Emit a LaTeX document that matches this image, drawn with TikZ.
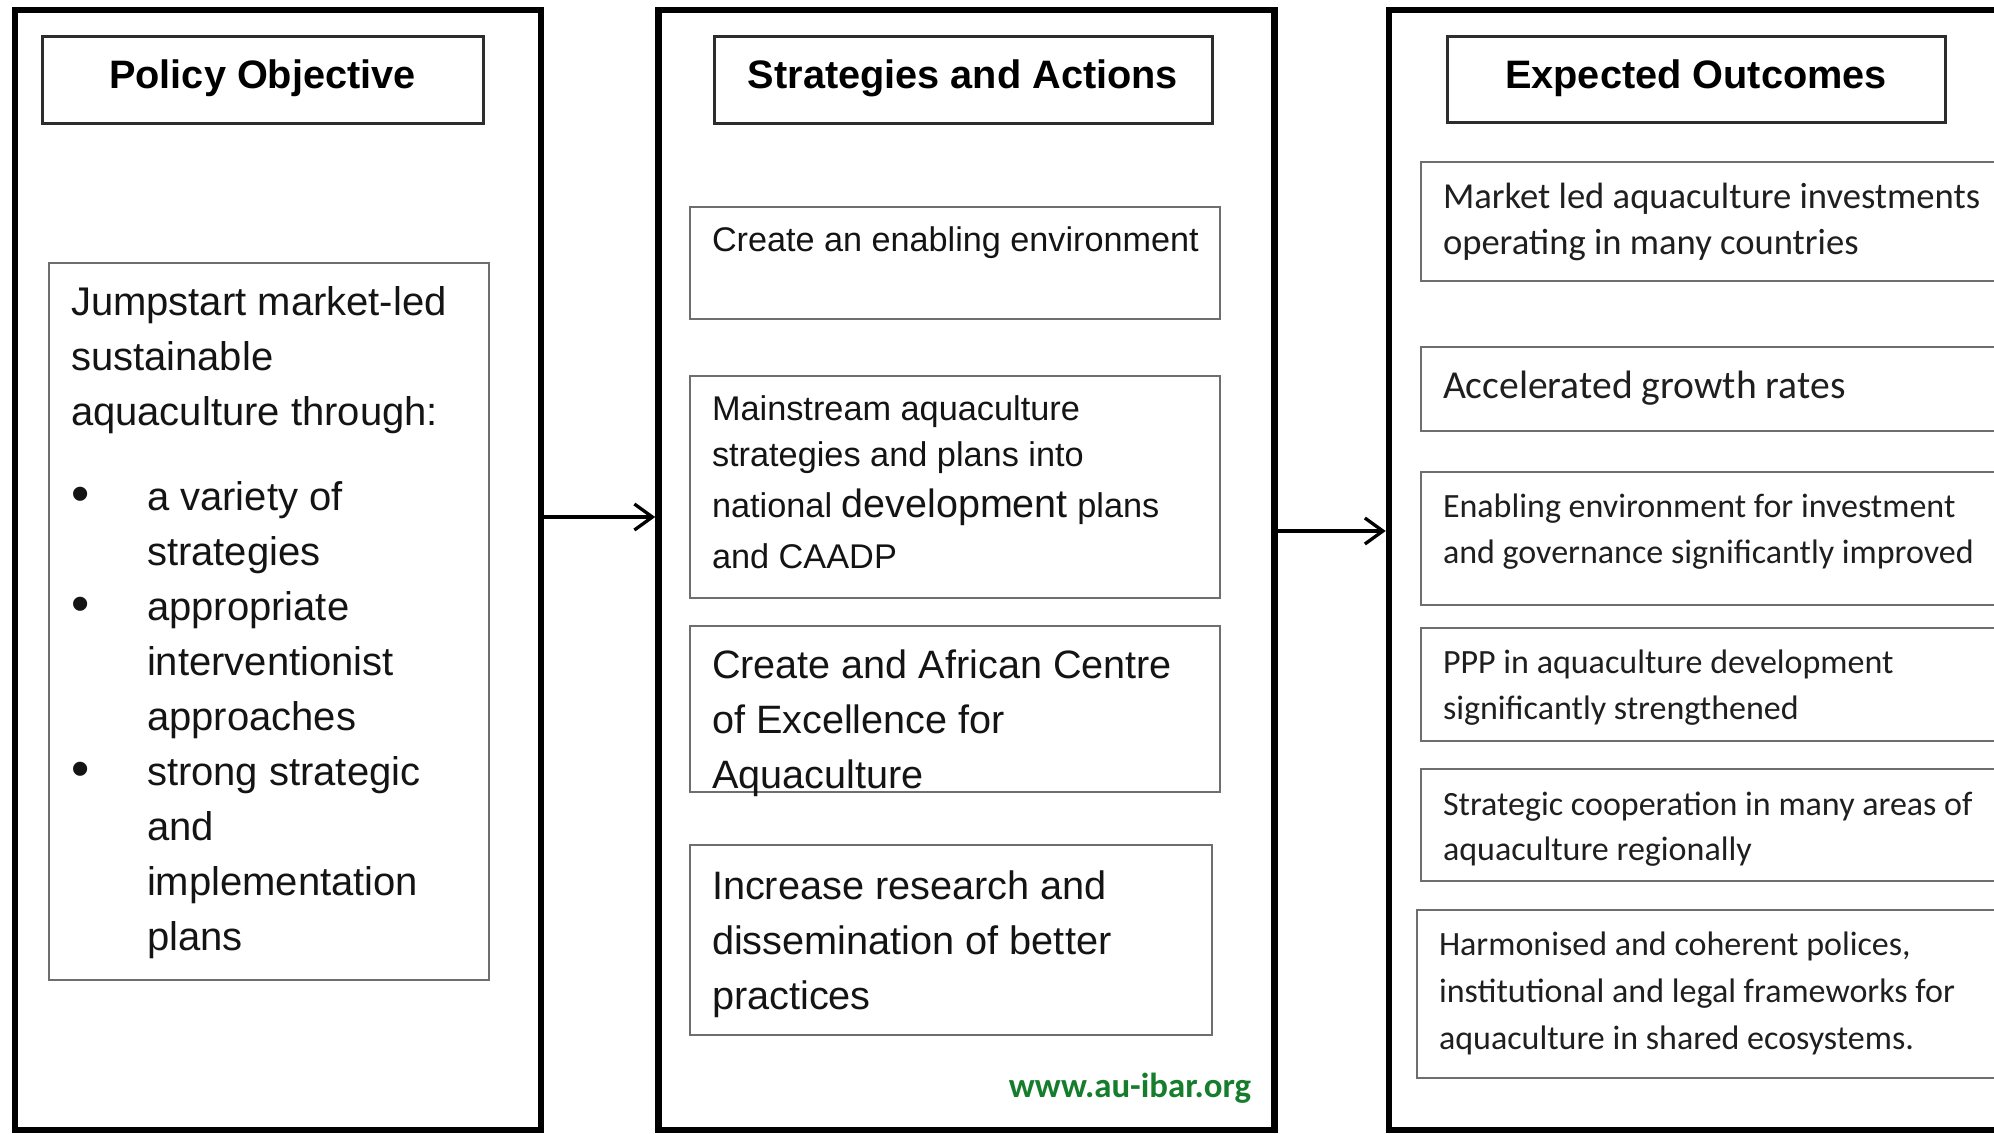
\documentclass[tikz,border=0pt]{standalone}
\usepackage{fontspec}
\setmainfont{Liberation Sans}
\newfontfamily\calfont{Carlito}
\usetikzlibrary{arrows.meta}
\definecolor{ibargreen}{RGB}{22,125,45}
\definecolor{boxgray}{RGB}{110,110,110}
\definecolor{titlegray}{RGB}{45,45,45}
\newcommand{\stacklines}[1]{\begin{tabular}[t]{@{}l@{}}#1\end{tabular}}
\newcommand{\bul}{\makebox[76pt][l]{\raisebox{-1.5pt}{\scalebox{1.3}{\textbullet}}}}
\begin{document}
\begin{tikzpicture}[x=1pt,y=-1pt,
  every node/.style={outer sep=0pt},
  panel/.style={draw=black, line width=6.5pt, inner sep=0pt, anchor=north west},
  titlebox/.style={draw=titlegray, line width=3pt, inner sep=0pt, anchor=north west},
  itembox/.style={draw=boxgray, line width=2pt, inner sep=0pt, anchor=north west},
  titletxt/.style={inner sep=0pt, anchor=base, font=\fontsize{39.7}{46}\selectfont\bfseries},
  atxt/.style={inner sep=0pt, anchor=base west, text=black!92},
  ctxt/.style={inner sep=0pt, anchor=base west, text=black!88},
  arr/.style={line width=3.3pt, -{Straight Barb[length=18pt,width=26pt]}}
]
\useasboundingbox (0,0) rectangle (1994,1133);
\fill[white] (0,0) rectangle (1994,1133);

% panels
\node[panel, minimum width=526pt, minimum height=1120pt] (p1) at (15,10) {};
\node[panel, minimum width=616pt, minimum height=1120pt] (p2) at (658.5,10) {};
\node[panel, minimum width=621pt, minimum height=1120pt] (p3) at (1389,10) {};

% titles
\node[titlebox, minimum width=441pt, minimum height=87pt] (t1) at (42,36) {};
\node[titletxt] (t1txt) at (262.5,88) {Policy Objective};
\node[titlebox, minimum width=498pt, minimum height=87pt] (t2) at (714,36) {};
\node[titletxt] (t2txt) at (963,88) {Strategies and Actions};
\node[titlebox, minimum width=498pt, minimum height=86pt] (t3) at (1447,36) {};
\node[titletxt] (t3txt) at (1696,88) {Expected Outcomes};

% left objective box
\node[itembox, minimum width=440pt, minimum height=717pt] (obj) at (49,263) {};
\node[atxt, font=\fontsize{40}{55}\selectfont] (objtxt) at (71,315) {\stacklines{%
Jumpstart market-led\\
sustainable\\
aquaculture through:\\[30pt]
\bul a variety of\\
\hspace*{76pt}strategies\\
\bul appropriate\\
\hspace*{76pt}interventionist\\
\hspace*{76pt}approaches\\
\bul strong strategic\\
\hspace*{76pt}and\\
\hspace*{76pt}implementation\\
\hspace*{76pt}plans}};

% middle boxes
\node[itembox, minimum width=530pt, minimum height=112pt] (s1) at (690,207) {};
\node[atxt, font=\fontsize{34.2}{46}\selectfont] (s1txt) at (712,251) {Create an enabling environment};

\node[itembox, minimum width=530pt, minimum height=222pt] (s2) at (690,376) {};
\node[atxt, font=\fontsize{34.3}{46}\selectfont] (s2txt) at (712,420) {\stacklines{%
Mainstream aquaculture\\
strategies and plans into\\[5pt]
national {\fontsize{39.5}{46}\selectfont development} plans\\[5pt]
and CAADP}};

\node[itembox, minimum width=530pt, minimum height=166pt] (s3) at (690,626) {};
\node[atxt, font=\fontsize{39.6}{55}\selectfont] (s3txt) at (712,678) {\stacklines{%
Create and African Centre\\
of Excellence for\\
Aquaculture}};

\node[itembox, minimum width=522pt, minimum height=190pt] (s4) at (690,845) {};
\node[atxt, font=\fontsize{39.7}{55}\selectfont] (s4txt) at (712,899) {\stacklines{%
Increase research and\\
dissemination of better\\
practices}};

\node[inner sep=0pt, anchor=base east, text=ibargreen,
      font=\calfont\bfseries\fontsize{34.8}{40}\selectfont] (url) at (1251,1097) {www.au-ibar.org};

% right boxes
\node[itembox, minimum width=589pt, minimum height=119pt] (o1) at (1421,162) {};
\node[ctxt, font=\calfont\fontsize{36.6}{46}\selectfont] (o1txt) at (1443,208) {\stacklines{%
Market led aquaculture investments\\
operating in many countries}};

\node[itembox, minimum width=589pt, minimum height=84pt] (o2) at (1421,347) {};
\node[ctxt, font=\calfont\fontsize{39.6}{46}\selectfont] (o2txt) at (1443,398) {Accelerated growth rates};

\node[itembox, minimum width=589pt, minimum height=133pt] (o3) at (1421,472) {};
\node[ctxt, font=\calfont\fontsize{34}{46}\selectfont] (o3txt) at (1443,517) {\stacklines{%
Enabling environment for investment\\
and governance significantly improved}};

\node[itembox, minimum width=589pt, minimum height=113pt] (o4) at (1421,628) {};
\node[ctxt, font=\calfont\fontsize{34}{46}\selectfont] (o4txt) at (1443,673) {\stacklines{%
PPP in aquaculture development\\
significantly strengthened}};

\node[itembox, minimum width=589pt, minimum height=112pt] (o5) at (1421,769) {};
\node[ctxt, font=\calfont\fontsize{34}{45}\selectfont] (o5txt) at (1443,815) {\stacklines{%
Strategic cooperation in many areas of\\
aquaculture regionally}};

\node[itembox, minimum width=593pt, minimum height=168pt] (o6) at (1417,910) {};
\node[ctxt, font=\calfont\fontsize{34}{47}\selectfont] (o6txt) at (1439,955) {\stacklines{%
Harmonised and coherent polices,\\
institutional and legal frameworks for\\
aquaculture in shared ecosystems.}};

% arrows
\draw[arr, shorten >=3.3pt] ([yshift=53pt]p1.east) -- ([yshift=53pt]p2.west);
\draw[arr, shorten >=3.3pt] ([yshift=39pt]p2.east) -- ([yshift=39pt]p3.west);
\end{tikzpicture}
\end{document}
